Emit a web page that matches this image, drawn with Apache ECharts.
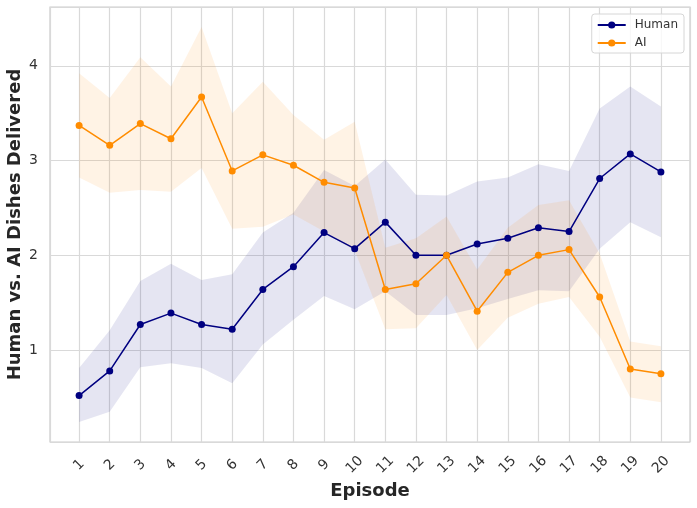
<!DOCTYPE html>
<html lang="en">
<head>
<meta charset="UTF-8">
<script src="https://cdn.jsdelivr.net/npm/echarts@6/dist/echarts.min.js"></script>
<title>Human vs AI</title>
<style>
  html, body { margin: 0; padding: 0; background: #fff; }
</style>
</head>
<body>
<div id="chart" style="width:697px;height:508px;"></div>
<script>
// episodes on the x axis
var episodes = [1, 2, 3, 4, 5, 6, 7, 8, 9, 10, 11, 12, 13, 14, 15, 16, 17, 18, 19, 20];

// human: mean and shaded band
var humanMean = [0.52, 0.78, 1.27, 1.39, 1.27, 1.22, 1.64, 1.88, 2.24, 2.07, 2.35, 2.00, 2.00, 2.12, 2.18, 2.29, 2.25, 2.81, 3.07, 2.88];
var humanLow  = [0.24, 0.35, 0.82, 0.86, 0.81, 0.65, 1.06, 1.32, 1.57, 1.43, 1.62, 1.37, 1.37, 1.44, 1.54, 1.63, 1.62, 2.07, 2.35, 2.19];
var humanHigh = [0.81, 1.21, 1.73, 1.91, 1.74, 1.80, 2.24, 2.45, 2.90, 2.73, 3.01, 2.64, 2.63, 2.78, 2.82, 2.96, 2.89, 3.55, 3.78, 3.57];

// AI: mean and shaded band
var aiMean = [3.37, 3.16, 3.39, 3.23, 3.67, 2.89, 3.06, 2.95, 2.77, 2.71, 1.64, 1.70, 2.00, 1.41, 1.82, 2.00, 2.06, 1.56, 0.80, 0.75];
var aiLow  = [2.82, 2.66, 2.69, 2.67, 2.92, 2.28, 2.30, 2.43, 2.25, 2.05, 1.22, 1.23, 1.58, 1.00, 1.34, 1.49, 1.56, 1.14, 0.50, 0.45];
var aiHigh = [3.92, 3.66, 4.09, 3.78, 4.41, 3.50, 3.83, 3.48, 3.22, 3.41, 2.08, 2.18, 2.41, 1.85, 2.29, 2.53, 2.58, 2.02, 1.09, 1.04];

var FONT = 'DejaVu Sans';

function pairs(ys) {
    return episodes.map(function (e, i) { return [e, ys[i]]; });
}

// one polygon per band, built from the axis scales
function bandSeries(name, low, high, color) {
    return {
        name: name,
        type: 'custom',
        silent: true,
        z: 1,
        data: episodes.map(function (e, i) { return [e, low[i], high[i]]; }),
        renderItem: function (params, api) {
            if (params.dataIndex !== 0) return null;
            var pts = [];
            for (var i = 0; i < episodes.length; i++) {
                pts.push(api.coord([episodes[i], high[i]]));
            }
            for (var j = episodes.length - 1; j >= 0; j--) {
                pts.push(api.coord([episodes[j], low[j]]));
            }
            return {
                type: 'polygon',
                shape: { points: pts },
                style: { fill: color, opacity: 0.1 }
            };
        }
    };
}

function lineSeries(name, ys, color, z) {
    return {
        name: name,
        type: 'line',
        z: z,
        data: pairs(ys),
        symbol: 'circle',
        symbolSize: 7,
        showSymbol: true,
        lineStyle: { color: color, width: 1.5 },
        itemStyle: { color: color },
        emphasis: { disabled: true },
        animation: false
    };
}

function intLabel(v) {
    return Math.abs(v - Math.round(v)) < 1e-6 ? String(Math.round(v)) : '';
}

var myChart = echarts.init(document.getElementById('chart'), null, { renderer: 'canvas' });

var option = {
    backgroundColor: '#ffffff',
    animation: false,
    textStyle: { fontFamily: FONT },
    grid: {
        left: 50, right: 7, top: 7, bottom: 66,
        containLabel: false,
        outerBoundsMode: 'none',
        show: true,
        borderColor: '#cccccc',
        borderWidth: 1.2,
        backgroundColor: 'transparent'
    },
    legend: {
        orient: 'vertical',
        right: 13,
        top: 14,
        padding: [5, 6, 4, 5],
        itemGap: 6,
        itemWidth: 28,
        itemHeight: 9,
        backgroundColor: 'rgba(255,255,255,0.8)',
        borderColor: '#d6d6d6',
        borderWidth: 1,
        borderRadius: 3,
        textStyle: { fontFamily: FONT, fontSize: 12, color: '#333333', padding: [0, 0, 0, 4] },
        data: ['Human', 'AI']
    },
    xAxis: {
        type: 'value',
        min: 0.05,
        max: 20.95,
        minInterval: 1,
        maxInterval: 1,
        name: 'Episode',
        nameLocation: 'middle',
        nameGap: 40,
        nameMoveOverlap: false,
        nameTextStyle: { fontFamily: FONT, fontSize: 18, fontWeight: 'bold', color: '#262626' },
        axisLine: { show: false },
        axisTick: { show: false },
        splitLine: { show: true, lineStyle: { color: '#d9d9d9', width: 1.2 } },
        axisLabel: {
            rotate: 45,
            align: 'center',
            verticalAlign: 'middle',
            margin: 23,
            fontFamily: FONT,
            fontSize: 14,
            color: '#333333',
            showMinLabel: false,
            showMaxLabel: false,
            formatter: intLabel
        }
    },
    yAxis: {
        type: 'value',
        min: 0.03,
        max: 4.62,
        minInterval: 1,
        maxInterval: 1,
        name: 'Human vs. AI Dishes Delivered',
        nameLocation: 'middle',
        nameGap: 26,
        nameMoveOverlap: false,
        nameTextStyle: { fontFamily: FONT, fontSize: 18, fontWeight: 'bold', color: '#262626' },
        axisLine: { show: false },
        axisTick: { show: false },
        splitLine: { show: true, lineStyle: { color: '#d9d9d9', width: 1.2 } },
        axisLabel: {
            margin: 12,
            fontFamily: FONT,
            fontSize: 14,
            color: '#333333',
            showMinLabel: false,
            showMaxLabel: false,
            formatter: intLabel
        }
    },
    series: [
        bandSeries('Human band', humanLow, humanHigh, '#000080'),
        bandSeries('AI band', aiLow, aiHigh, '#ff8c00'),
        lineSeries('Human', humanMean, '#000080', 3),
        lineSeries('AI', aiMean, '#ff8c00', 4)
    ]
};

myChart.setOption(option);
</script>
</body>
</html>
